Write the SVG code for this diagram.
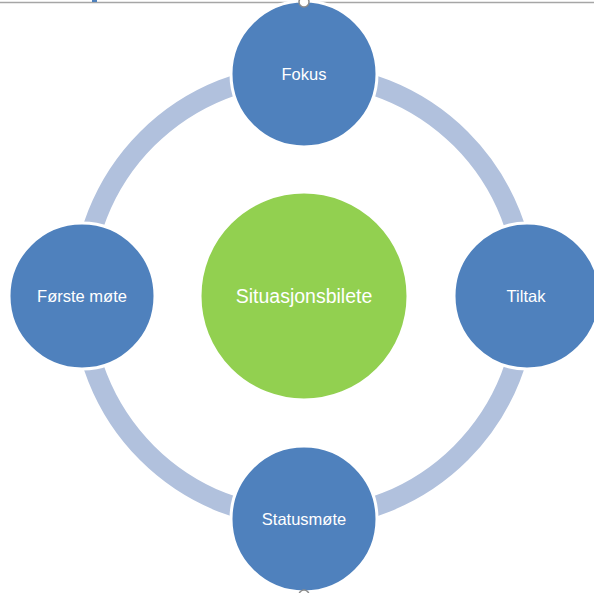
<svg xmlns="http://www.w3.org/2000/svg" width="594" height="593" viewBox="0 0 594 593">
<style>
.node{fill:#4F81BD;stroke:#FFFFFF;stroke-width:3}
.center{fill:#92D050;stroke:#FFFFFF;stroke-width:3}
.lbl{font-family:"Liberation Sans",Arial,sans-serif;font-size:16.5px;fill:#FFFFFF;text-anchor:middle}
.big{font-size:19.5px}
.handle{fill:#FFFFFF;stroke:#8C8C8C;stroke-width:1.5}
</style>
<rect x="0" y="0" width="594" height="593" fill="#FFFFFF"/>
<line x1="0" y1="2.5" x2="594" y2="2.5" stroke="#A6A6A6" stroke-width="1.5"/>
<rect x="92" y="0" width="5" height="2" fill="#4F81BD"/>
<g id="connectors">
<circle cx="304" cy="296" r="222" fill="none" stroke="#B1C1DD" stroke-width="20"/>
</g>
<g id="center">
<circle class="center" cx="304" cy="296" r="104"/>
<text class="lbl big" x="304" y="303">Situasjonsbilete</text>
</g>
<g id="fokus">
<circle class="node" cx="304" cy="74" r="73"/>
<text class="lbl" x="304" y="80">Fokus</text>
</g>
<g id="tiltak">
<circle class="node" cx="527" cy="296" r="73"/>
<text class="lbl" x="526" y="302">Tiltak</text>
</g>
<g id="statusmote">
<circle class="node" cx="304" cy="519" r="73"/>
<text class="lbl" x="304" y="525">Statusmøte</text>
</g>
<g id="forste">
<circle class="node" cx="82" cy="296" r="73"/>
<text class="lbl" x="82" y="302">Første møte</text>
</g>
<circle class="handle" cx="304" cy="2" r="5"/>
<circle class="handle" cx="304" cy="595" r="5"/>
</svg>
